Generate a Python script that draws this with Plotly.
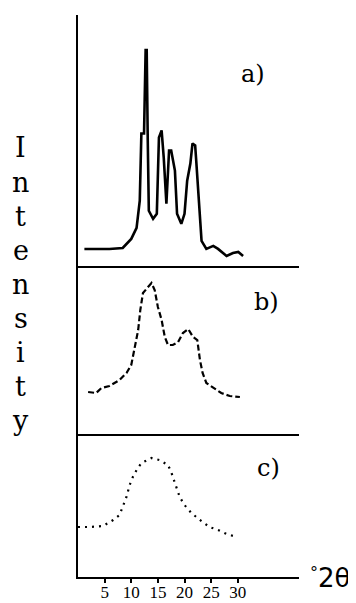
import plotly.graph_objects as go

# ---- data (2theta in degrees, intensity in arbitrary units) ----
two_theta_a = [1.2, 5.9, 8.4, 10.0, 11.0, 11.6, 11.9, 12.4, 12.7, 12.9, 13.1, 13.3, 14.1, 14.8, 15.2, 15.7,
               16.1, 16.6, 17.1, 17.5, 18.2, 18.6, 19.4, 20.0, 20.5, 21.1, 21.5, 22.0, 22.2, 22.7, 23.2,
               24.1, 25.4, 26.3, 27.9, 29.1, 30.1, 31.0]
intensity_a = [17, 17, 18, 27, 38, 65, 132, 132, 215, 215, 125, 55, 47, 52, 128, 135,
               108, 62, 115, 115, 95, 52, 42, 52, 85, 102, 122, 120, 105, 65, 25,
               17, 20, 17, 10, 13, 14, 10]

two_theta_b = [1.9, 3.4, 4.4, 5.9, 7.8, 9.1, 10.0, 10.3, 10.6, 11.3, 11.7, 12.2, 13.8, 14.4, 15.0,
               15.7, 16.3, 16.9, 17.8, 18.8, 19.7, 20.7, 21.6, 22.4, 22.9, 23.4, 24.1, 25.4, 26.9,
               28.5, 30.4]
intensity_b = [42, 41, 46, 48, 54, 61, 69, 77, 87, 104, 124, 141, 151, 144, 127,
               114, 97, 89, 89, 92, 101, 105, 97, 94, 74, 61, 51, 46, 41,
               38, 37]

two_theta_c = [0.0, 2.2, 4.7, 6.6, 7.8, 8.4, 9.1, 9.7, 10.3, 11.0, 11.9, 13.8, 15.3, 16.9, 17.5,
               18.2, 19.1, 20.0, 21.3, 22.9, 24.7, 26.3, 27.9, 29.8]
intensity_c = [50, 50, 51, 57, 62, 70, 80, 92, 100, 107, 114, 119, 117, 112, 105,
               94, 80, 72, 64, 57, 50, 47, 43, 40]

tick_vals = [5, 10, 15, 20, 25, 30]
panel_labels = ["a)", "b)", "c)"]
y_title = "Intensity"
x_title = "2θ"

# ---- figure ----
OFF = 8  # default page body margin
W, H = 356 - OFF, 603 - OFF
ml, mt = 78 - OFF, 15 - OFF
mr = 356 - 299
mb = 603 - 577
plot_w = W - ml - mr
plot_h = H - mt - mb  # 562

dom_c = [0.0, 143 / plot_h]
dom_b = [143 / plot_h, 311 / plot_h]
dom_a = [311 / plot_h, 1.0]

fig = go.Figure()
fig.add_trace(go.Scatter(x=two_theta_a, y=intensity_a, mode="lines", xaxis="x", yaxis="y",
                         line=dict(color="black", width=2.6), hoverinfo="skip"))
fig.add_trace(go.Scatter(x=two_theta_b, y=intensity_b, mode="lines", xaxis="x2", yaxis="y2",
                         line=dict(color="black", width=2.2, dash="6px,3px"), hoverinfo="skip"))
fig.add_trace(go.Scatter(x=two_theta_c, y=intensity_c, mode="lines", xaxis="x3", yaxis="y3",
                         line=dict(color="black", width=2.2, dash="2px,5px"), hoverinfo="skip"))

xr = [0, 41.5]
common_x = dict(range=xr, showgrid=False, zeroline=False, showline=True, linecolor="black",
                linewidth=2, fixedrange=True, automargin=False)
common_y = dict(showgrid=False, zeroline=False, showline=True, linecolor="black", linewidth=2,
                showticklabels=False, ticks="", fixedrange=True, automargin=False)

fig.update_layout(
    width=W, height=H, margin=dict(l=ml, r=mr, t=mt, b=mb, autoexpand=False),
    paper_bgcolor="white", plot_bgcolor="white", showlegend=False,
    xaxis=dict(**common_x, anchor="y", domain=[0, 1], showticklabels=False, ticks=""),
    xaxis2=dict(**common_x, anchor="y2", domain=[0, 1], showticklabels=False, ticks=""),
    xaxis3=dict(**common_x, anchor="y3", domain=[0, 1], tickmode="array", tickvals=tick_vals,
                ticktext=[str(v) for v in tick_vals], ticks="outside", ticklen=4, tickwidth=2,
                tickcolor="black", ticklabelstandoff=-5,
                tickfont=dict(family="Liberation Serif", size=17, color="black")),
    yaxis=dict(**common_y, anchor="x", domain=dom_a, range=[0, 250]),
    yaxis2=dict(**common_y, anchor="x2", domain=dom_b, range=[0, 168]),
    yaxis3=dict(**common_y, anchor="x3", domain=dom_c, range=[0, 143]),
)


def px_x(p):
    # p: x position in reference window pixels
    return (p - OFF - ml) / plot_w


def px_y(p):
    return (H - mb - (p - OFF)) / plot_h


anns = []
for i, ch in enumerate(y_title):
    anns.append(dict(text=ch, x=px_x(21), y=px_y(148 + 34 * i), xref="paper", yref="paper",
                     xanchor="center", yanchor="middle", showarrow=False,
                     font=dict(family="DejaVu Serif", size=27, color="black")))
for lab, (lx, ly) in zip(panel_labels, [(253, 74), (266, 302), (268, 468)]):
    anns.append(dict(text=lab, x=px_x(lx), y=px_y(ly), xref="paper", yref="paper",
                     xanchor="center", yanchor="middle", showarrow=False,
                     font=dict(family="DejaVu Serif", size=24, color="black")))
anns.append(dict(text="°", x=px_x(314), y=px_y(572), xref="paper", yref="paper",
                 xanchor="center", yanchor="middle", showarrow=False,
                 font=dict(family="DejaVu Sans", size=16, color="black")))
anns.append(dict(text=x_title, x=px_x(334), y=px_y(578), xref="paper", yref="paper",
                 xanchor="center", yanchor="middle", showarrow=False,
                 font=dict(family="DejaVu Sans", size=26, color="black")))
fig.update_layout(annotations=anns)

fig.write_html("out.html")
